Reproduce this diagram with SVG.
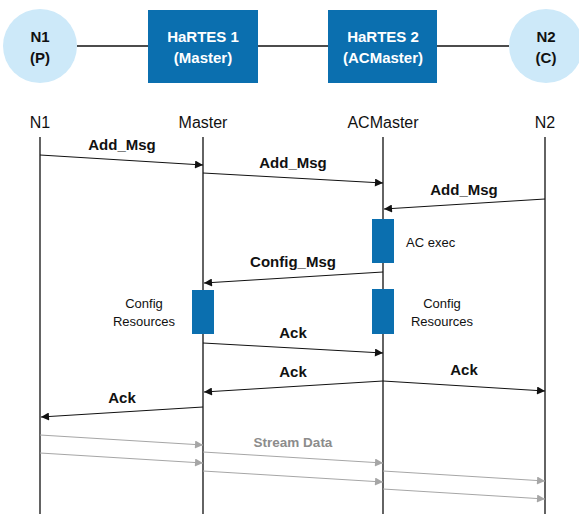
<svg xmlns="http://www.w3.org/2000/svg" width="579" height="514" viewBox="0 0 579 514">
<defs>
<style>
.circ{fill:#CDE9F9;}
.box{fill:#0B6FAF;}
.bar{fill:#0B6FAF;}
.nt{font-family:"Liberation Sans",Arial,sans-serif;font-size:15px;font-weight:bold;text-anchor:middle;}
.ntw{fill:#FFFFFF;}
.ntd{fill:#111111;}
.hdr{font-family:"Liberation Sans",Arial,sans-serif;font-size:16px;fill:#111;text-anchor:middle;}
.lbl{font-family:"Liberation Sans",Arial,sans-serif;font-size:15px;font-weight:bold;fill:#111;text-anchor:middle;}
.note{font-family:"Liberation Sans",Arial,sans-serif;font-size:13px;fill:#111;}
.stl{font-family:"Liberation Sans",Arial,sans-serif;font-size:13.5px;font-weight:bold;fill:#8C8C8C;text-anchor:middle;}
.life{stroke:#222;stroke-width:1.4;fill:none;}
.link{stroke:#111;stroke-width:1.3;fill:none;}
.msg{stroke:#111;stroke-width:1;fill:none;marker-end:url(#ah);}
.msgs{stroke:#A6A6A6;stroke-width:1;fill:none;marker-end:url(#ahg);}
</style>
<marker id="ah" viewBox="0 0 10 10" refX="10" refY="5" markerWidth="10" markerHeight="8" markerUnits="userSpaceOnUse" orient="auto">
<path d="M0,0 L10,5 L0,10 z" fill="#111"/>
</marker>
<marker id="ahg" viewBox="0 0 10 10" refX="10" refY="5" markerWidth="10" markerHeight="8" markerUnits="userSpaceOnUse" orient="auto">
<path d="M0,0 L10,5 L0,10 z" fill="#A6A6A6"/>
</marker>
</defs>
<rect width="579" height="514" fill="#FFFFFF"/>

<g id="links">
<line class="link" x1="77" y1="46" x2="148" y2="46"/>
<line class="link" x1="258" y1="46" x2="328" y2="46"/>
<line class="link" x1="437" y1="46" x2="509" y2="46"/>
</g>

<g id="node-n1">
<circle class="circ" cx="40" cy="46" r="37"/>
<text class="nt ntd" x="40" y="42">N1</text>
<text class="nt ntd" x="40" y="63">(P)</text>
</g>
<g id="node-hartes1">
<rect class="box" x="148" y="10" width="110" height="73"/>
<text class="nt ntw" x="203" y="42">HaRTES 1</text>
<text class="nt ntw" x="203" y="63">(Master)</text>
</g>
<g id="node-hartes2">
<rect class="box" x="328" y="10" width="109" height="73"/>
<text class="nt ntw" x="383" y="42">HaRTES 2</text>
<text class="nt ntw" x="383" y="63">(ACMaster)</text>
</g>
<g id="node-n2">
<circle class="circ" cx="546" cy="46" r="37"/>
<text class="nt ntd" x="546" y="42">N2</text>
<text class="nt ntd" x="546" y="63">(C)</text>
</g>

<g id="lifelines">
<text class="hdr" x="40" y="128">N1</text>
<text class="hdr" x="203" y="128">Master</text>
<text class="hdr" x="383" y="128">ACMaster</text>
<text class="hdr" x="545" y="128">N2</text>
<line class="life" x1="40" y1="137" x2="40" y2="514"/>
<line class="life" x1="203" y1="137" x2="203" y2="514"/>
<line class="life" x1="383" y1="137" x2="383" y2="514"/>
<line class="life" x1="545" y1="137" x2="545" y2="514"/>
</g>

<g id="activations">
<rect class="bar" x="372" y="219" width="22" height="44"/>
<text class="note" x="406" y="247">AC exec</text>
<rect class="bar" x="192" y="290" width="22" height="44"/>
<text class="note" x="144" y="308" text-anchor="middle">Config</text>
<text class="note" x="144" y="326" text-anchor="middle">Resources</text>
<rect class="bar" x="372" y="289" width="22" height="45"/>
<text class="note" x="442" y="308" text-anchor="middle">Config</text>
<text class="note" x="442" y="326" text-anchor="middle">Resources</text>
</g>

<g id="connectors">
<line class="msg" x1="40" y1="155" x2="203" y2="165"/>
<text class="lbl" x="122" y="150">Add_Msg</text>
<line class="msg" x1="203" y1="173" x2="383" y2="183"/>
<text class="lbl" x="293" y="168">Add_Msg</text>
<line class="msg" x1="545" y1="199" x2="384" y2="209"/>
<text class="lbl" x="464" y="195">Add_Msg</text>
<line class="msg" x1="383" y1="272" x2="204" y2="283"/>
<text class="lbl" x="293" y="267">Config_Msg</text>
<line class="msg" x1="203" y1="343" x2="383" y2="353"/>
<text class="lbl" x="293" y="338">Ack</text>
<line class="msg" x1="383" y1="381" x2="204" y2="392"/>
<text class="lbl" x="293" y="377">Ack</text>
<line class="msg" x1="383" y1="381" x2="545" y2="391"/>
<text class="lbl" x="464" y="375">Ack</text>
<line class="msg" x1="203" y1="407" x2="41" y2="417"/>
<text class="lbl" x="122" y="403">Ack</text>
<line class="msgs" x1="40" y1="435" x2="203" y2="445"/>
<line class="msgs" x1="40" y1="453" x2="203" y2="463"/>
<line class="msgs" x1="203" y1="452" x2="383" y2="463"/>
<line class="msgs" x1="203" y1="471" x2="383" y2="482"/>
<line class="msgs" x1="383" y1="471" x2="545" y2="481"/>
<line class="msgs" x1="383" y1="489" x2="545" y2="499"/>
<text class="stl" x="293" y="447">Stream Data</text>
</g>
</svg>
